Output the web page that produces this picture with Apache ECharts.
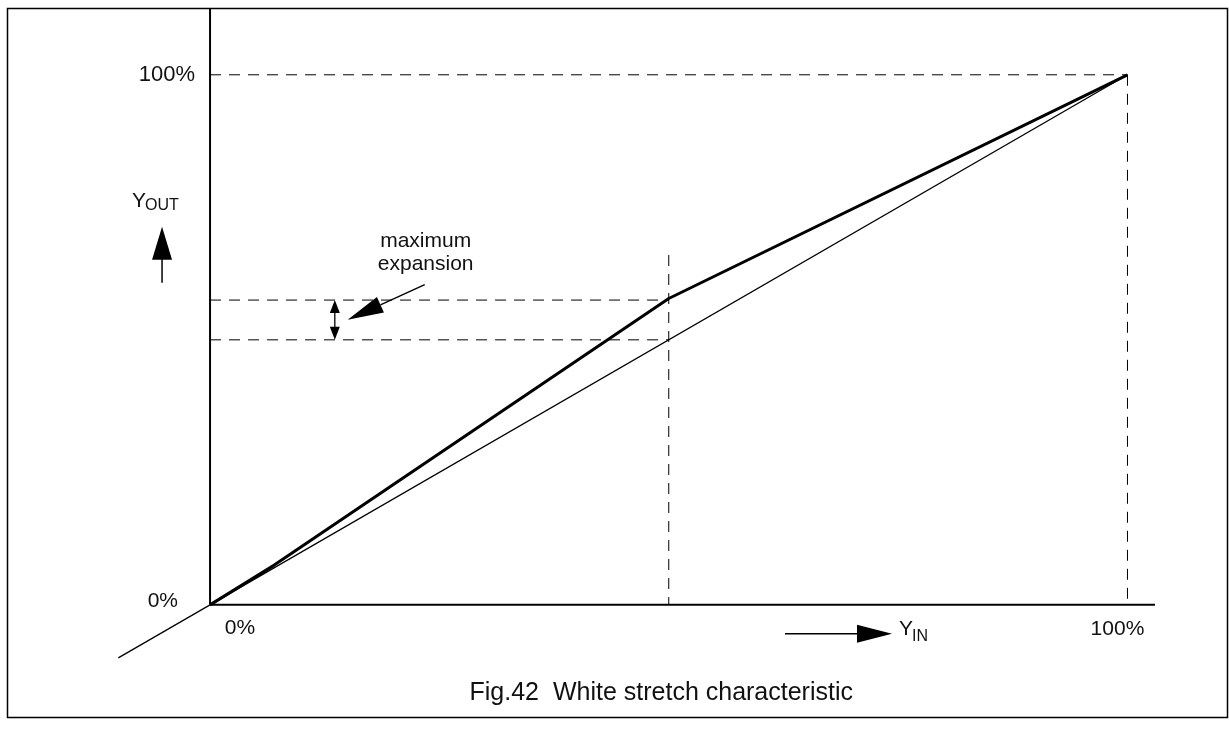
<!DOCTYPE html>
<html>
<head>
<meta charset="utf-8">
<script src="https://cdn.jsdelivr.net/npm/echarts@6/dist/echarts.min.js"></script>
<style>
html,body{margin:0;padding:0;background:#fff;}
#chart{width:1229px;height:734px;}
</style>
</head>
<body>
<div id="chart"></div>
<script>
// ---- data (percent units) ----
const linearX = [-10, 100];          // reference (unity) characteristic
const linearY = [-10, 100];
const stretchX = [0, 7, 50, 100];    // white stretch characteristic
const stretchY = [0, 7.5, 57.8, 100];
const fullScale = 100;               // 100% level
const kneeIn = 50;                   // input level of the knee
const kneeOutStretched = 57.5;       // output at knee with stretch
const kneeOutLinear = 50;            // output at knee without stretch
const kneeGuideTop = 66;             // top of the vertical guide at knee
const xAxisEnd = 103;
const yAxisEnd = 112.6;
const xTickLabels = ['0%', '100%'];
const yTickLabels = ['0%', '100%'];
const captionText = 'Fig.42  White stretch characteristic';
const annotationText = 'maximum\nexpansion';
const expansionMarkX = 13.6;         // x of the double arrow
const annotationTip = [15.0, 53.8];
const annotationTail = [23.4, 60.4];
const annotationLabel = [23.5, 66.4];

const FONT = '"Liberation Sans", Arial, Helvetica, sans-serif';
const chart = echarts.init(document.getElementById('chart'), null, {renderer: 'canvas'});

function seg(xs, ys) { return xs.map((x, i) => [x, ys[i]]); }
function lineSeries(data, width, dashed) {
  return {
    type: 'line', data: data, symbol: 'none', silent: true, animation: false,
    lineStyle: {color: '#000', width: width, type: dashed ? [11, 8] : 'solid'},
    z: dashed ? 1 : 3
  };
}

chart.setOption({
  animation: false,
  backgroundColor: '#fff',
  grid: {left: 118.3, top: 8, width: 1036.7, height: 652, containLabel: false},
  xAxis: {type: 'value', min: -10, max: xAxisEnd, show: false},
  yAxis: {type: 'value', min: -10.4, max: yAxisEnd, show: false},
  series: [
    // axes
    lineSeries([[0, 0], [xAxisEnd, 0]], 2, false),
    lineSeries([[0, 0], [0, yAxisEnd]], 2, false),
    // dashed guides
    lineSeries([[0, fullScale], [fullScale, fullScale]], 1, true),
    lineSeries([[fullScale, fullScale], [fullScale, 0]], 1, true),
    lineSeries([[kneeIn, kneeGuideTop], [kneeIn, 0]], 1, true),
    lineSeries([[0, kneeOutStretched], [kneeIn, kneeOutStretched]], 1, true),
    lineSeries([[0, kneeOutLinear], [kneeIn, kneeOutLinear]], 1, true),
    // characteristics
    lineSeries(seg(linearX, linearY), 1.3, false),
    lineSeries(seg(stretchX, stretchY), 3, false)
  ]
});

const P = (x, y) => chart.convertToPixel({gridIndex: 0}, [x, y]);
const o = P(0, 0);
const y100 = P(0, fullScale);
const x100 = P(fullScale, 0);
const txtStyle = (t, size, align, vAlign) => ({text: t, fill: '#111', font: size + 'px ' + FONT, align: align, verticalAlign: vAlign});

function tri(tip, base, half, vertical) {
  if (vertical) return [[tip[0], tip[1]], [tip[0] - half, base], [tip[0] + half, base]];
  return [[tip[0], tip[1]], [base, tip[1] - half], [base, tip[1] + half]];
}

const g = [];
// frame
g.push({type: 'rect', shape: {x: 7.5, y: 8.5, width: 1220, height: 709}, style: {fill: 'none', stroke: '#000', lineWidth: 1.5}, silent: true});
// tick labels
g.push({type: 'text', x: y100[0] - 15, y: y100[1], style: txtStyle(yTickLabels[1], 22, 'right', 'middle')});
g.push({type: 'text', x: o[0] - 32, y: o[1] - 4, style: txtStyle(yTickLabels[0], 21, 'right', 'middle')});
g.push({type: 'text', x: o[0] + 30, y: o[1] + 23, style: txtStyle(xTickLabels[0], 21, 'center', 'middle')});
g.push({type: 'text', x: x100[0] - 10, y: x100[1] + 24, style: txtStyle(xTickLabels[1], 21, 'center', 'middle')});
// Y_OUT label and arrow
const ax = o[0] - 48;
g.push({type: 'text', x: ax - 30, y: o[1] - 404, style: txtStyle('Y', 21, 'left', 'middle')});
g.push({type: 'text', x: ax - 17, y: o[1] - 399, style: txtStyle('OUT', 16, 'left', 'middle')});
g.push({type: 'line', shape: {x1: ax, y1: o[1] - 322, x2: ax, y2: o[1] - 350}, style: {stroke: '#000', lineWidth: 1.5}});
g.push({type: 'polygon', shape: {points: tri([ax, o[1] - 378], o[1] - 345, 10, true)}, style: {fill: '#000'}});
// Y_IN label and arrow
const ay = o[1] + 29;
g.push({type: 'line', shape: {x1: 785, y1: ay, x2: 860, y2: ay}, style: {stroke: '#000', lineWidth: 1.5}});
g.push({type: 'polygon', shape: {points: tri([892, ay], 857, 9, false)}, style: {fill: '#000'}});
g.push({type: 'text', x: 899, y: ay - 5, style: txtStyle('Y', 21, 'left', 'middle')});
g.push({type: 'text', x: 912, y: ay + 3, style: txtStyle('IN', 16, 'left', 'middle')});
// double arrow: maximum expansion
const dTop = P(expansionMarkX, kneeOutStretched);
const dBot = P(expansionMarkX, kneeOutLinear);
g.push({type: 'line', shape: {x1: dTop[0], y1: dTop[1] + 8, x2: dBot[0], y2: dBot[1] - 8}, style: {stroke: '#000', lineWidth: 1.3}});
g.push({type: 'polygon', shape: {points: tri(dTop, dTop[1] + 13, 5, true)}, style: {fill: '#000'}});
g.push({type: 'polygon', shape: {points: tri(dBot, dBot[1] - 13, 5, true)}, style: {fill: '#000'}});
// annotation arrow
const tip = P(annotationTip[0], annotationTip[1]);
const tail = P(annotationTail[0], annotationTail[1]);
const dx = tail[0] - tip[0], dy = tail[1] - tip[1];
const L = Math.hypot(dx, dy), ux = dx / L, uy = dy / L;
const headLen = 36, headHalf = 8.5;
const bc = [tip[0] + ux * headLen, tip[1] + uy * headLen];
g.push({type: 'line', shape: {x1: tail[0], y1: tail[1], x2: bc[0], y2: bc[1]}, style: {stroke: '#000', lineWidth: 1.3}});
g.push({type: 'polygon', shape: {points: [tip, [bc[0] - uy * headHalf, bc[1] + ux * headHalf], [bc[0] + uy * headHalf, bc[1] - ux * headHalf]]}, style: {fill: '#000'}});
const al = P(annotationLabel[0], annotationLabel[1]);
g.push({type: 'text', x: al[0], y: al[1], style: Object.assign(txtStyle(annotationText, 21, 'center', 'middle'), {lineHeight: 23})});
// caption
g.push({type: 'text', x: 853, y: 693, style: txtStyle(captionText, 25, 'right', 'middle')});

chart.setOption({graphic: g.map(e => Object.assign({silent: true}, e))});
</script>
</body>
</html>
